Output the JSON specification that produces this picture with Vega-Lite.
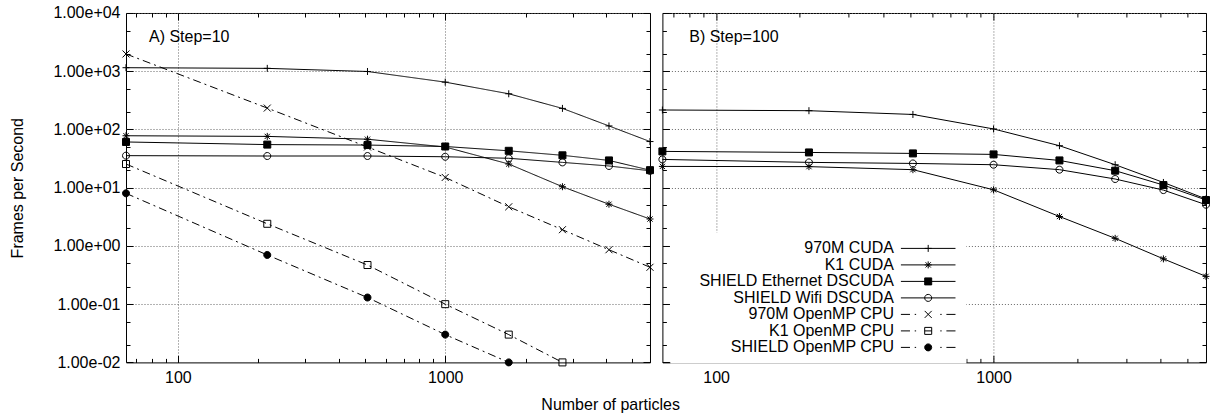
{
  "$schema": "https://vega.github.io/schema/vega-lite/v6.json",
  "padding": {"left": 9, "top": 4, "right": 0, "bottom": 0},
  "background": "white",
  "config": {
    "font": "Liberation Sans",
    "view": {"stroke": "black", "strokeWidth": 1},
    "axis": {
      "labelFont": "Liberation Sans", "labelFontSize": 16, "labelColor": "black",
      "titleFont": "Liberation Sans", "titleFontSize": 16, "titleFontWeight": "normal", "titleColor": "black",
      "domain": false, "tickColor": "black", "tickWidth": 1,
      "gridColor": "#666", "gridDash": [1, 2], "gridWidth": 1,
      "labelOverlap": false, "labelFlush": false, "labelBound": false
    },
    "legend": {"labelFont": "Liberation Sans", "labelFontSize": 16, "labelColor": "black"}
  },
  "title": {"text": "Number of particles", "orient": "bottom", "anchor": "middle", "fontSize": 16, "font": "Liberation Sans", "fontWeight": "normal", "color": "black", "offset": 8},
  "datasets": {
    "fps": [
      {"panel": "A", "series": "970M CUDA", "n": 64, "fps": 1150},
      {"panel": "A", "series": "970M CUDA", "n": 216, "fps": 1120},
      {"panel": "A", "series": "970M CUDA", "n": 512, "fps": 990},
      {"panel": "A", "series": "970M CUDA", "n": 1000, "fps": 650},
      {"panel": "A", "series": "970M CUDA", "n": 1728, "fps": 410},
      {"panel": "A", "series": "970M CUDA", "n": 2744, "fps": 230},
      {"panel": "A", "series": "970M CUDA", "n": 4096, "fps": 115},
      {"panel": "A", "series": "970M CUDA", "n": 5832, "fps": 62},
      {"panel": "A", "series": "K1 CUDA", "n": 64, "fps": 78},
      {"panel": "A", "series": "K1 CUDA", "n": 216, "fps": 76},
      {"panel": "A", "series": "K1 CUDA", "n": 512, "fps": 68},
      {"panel": "A", "series": "K1 CUDA", "n": 1000, "fps": 50},
      {"panel": "A", "series": "K1 CUDA", "n": 1728, "fps": 25.5},
      {"panel": "A", "series": "K1 CUDA", "n": 2744, "fps": 10.4},
      {"panel": "A", "series": "K1 CUDA", "n": 4096, "fps": 5.2},
      {"panel": "A", "series": "K1 CUDA", "n": 5832, "fps": 2.9},
      {"panel": "A", "series": "SHIELD Ethernet DSCUDA", "n": 64, "fps": 61},
      {"panel": "A", "series": "SHIELD Ethernet DSCUDA", "n": 216, "fps": 55},
      {"panel": "A", "series": "SHIELD Ethernet DSCUDA", "n": 512, "fps": 54},
      {"panel": "A", "series": "SHIELD Ethernet DSCUDA", "n": 1000, "fps": 51},
      {"panel": "A", "series": "SHIELD Ethernet DSCUDA", "n": 1728, "fps": 43},
      {"panel": "A", "series": "SHIELD Ethernet DSCUDA", "n": 2744, "fps": 36},
      {"panel": "A", "series": "SHIELD Ethernet DSCUDA", "n": 4096, "fps": 29.4},
      {"panel": "A", "series": "SHIELD Ethernet DSCUDA", "n": 5832, "fps": 20},
      {"panel": "A", "series": "SHIELD Wifi DSCUDA", "n": 64, "fps": 35.5},
      {"panel": "A", "series": "SHIELD Wifi DSCUDA", "n": 216, "fps": 35},
      {"panel": "A", "series": "SHIELD Wifi DSCUDA", "n": 512, "fps": 35},
      {"panel": "A", "series": "SHIELD Wifi DSCUDA", "n": 1000, "fps": 34},
      {"panel": "A", "series": "SHIELD Wifi DSCUDA", "n": 1728, "fps": 32},
      {"panel": "A", "series": "SHIELD Wifi DSCUDA", "n": 2744, "fps": 27.2},
      {"panel": "A", "series": "SHIELD Wifi DSCUDA", "n": 4096, "fps": 23.6},
      {"panel": "A", "series": "SHIELD Wifi DSCUDA", "n": 5832, "fps": 19.5},
      {"panel": "A", "series": "970M OpenMP CPU", "n": 64, "fps": 1980},
      {"panel": "A", "series": "970M OpenMP CPU", "n": 216, "fps": 233},
      {"panel": "A", "series": "970M OpenMP CPU", "n": 512, "fps": 50},
      {"panel": "A", "series": "970M OpenMP CPU", "n": 1000, "fps": 15},
      {"panel": "A", "series": "970M OpenMP CPU", "n": 1728, "fps": 4.7},
      {"panel": "A", "series": "970M OpenMP CPU", "n": 2744, "fps": 1.9},
      {"panel": "A", "series": "970M OpenMP CPU", "n": 4096, "fps": 0.86},
      {"panel": "A", "series": "970M OpenMP CPU", "n": 5832, "fps": 0.43},
      {"panel": "A", "series": "K1 OpenMP CPU", "n": 64, "fps": 25.5},
      {"panel": "A", "series": "K1 OpenMP CPU", "n": 216, "fps": 2.4},
      {"panel": "A", "series": "K1 OpenMP CPU", "n": 512, "fps": 0.47},
      {"panel": "A", "series": "K1 OpenMP CPU", "n": 1000, "fps": 0.1},
      {"panel": "A", "series": "K1 OpenMP CPU", "n": 1728, "fps": 0.03},
      {"panel": "A", "series": "K1 OpenMP CPU", "n": 2744, "fps": 0.01},
      {"panel": "A", "series": "SHIELD OpenMP CPU", "n": 64, "fps": 8},
      {"panel": "A", "series": "SHIELD OpenMP CPU", "n": 216, "fps": 0.7},
      {"panel": "A", "series": "SHIELD OpenMP CPU", "n": 512, "fps": 0.13},
      {"panel": "A", "series": "SHIELD OpenMP CPU", "n": 1000, "fps": 0.03},
      {"panel": "A", "series": "SHIELD OpenMP CPU", "n": 1728, "fps": 0.01},
      {"panel": "B", "series": "970M CUDA", "n": 64, "fps": 216},
      {"panel": "B", "series": "970M CUDA", "n": 216, "fps": 210},
      {"panel": "B", "series": "970M CUDA", "n": 512, "fps": 181},
      {"panel": "B", "series": "970M CUDA", "n": 1000, "fps": 102},
      {"panel": "B", "series": "970M CUDA", "n": 1728, "fps": 52.6},
      {"panel": "B", "series": "970M CUDA", "n": 2744, "fps": 24.8},
      {"panel": "B", "series": "970M CUDA", "n": 4096, "fps": 12.3},
      {"panel": "B", "series": "970M CUDA", "n": 5832, "fps": 6.4},
      {"panel": "B", "series": "K1 CUDA", "n": 64, "fps": 23.2},
      {"panel": "B", "series": "K1 CUDA", "n": 216, "fps": 23},
      {"panel": "B", "series": "K1 CUDA", "n": 512, "fps": 20.4},
      {"panel": "B", "series": "K1 CUDA", "n": 1000, "fps": 9.2},
      {"panel": "B", "series": "K1 CUDA", "n": 1728, "fps": 3.2},
      {"panel": "B", "series": "K1 CUDA", "n": 2744, "fps": 1.35},
      {"panel": "B", "series": "K1 CUDA", "n": 4096, "fps": 0.6},
      {"panel": "B", "series": "K1 CUDA", "n": 5832, "fps": 0.3},
      {"panel": "B", "series": "SHIELD Ethernet DSCUDA", "n": 64, "fps": 42},
      {"panel": "B", "series": "SHIELD Ethernet DSCUDA", "n": 216, "fps": 40.3},
      {"panel": "B", "series": "SHIELD Ethernet DSCUDA", "n": 512, "fps": 38.8},
      {"panel": "B", "series": "SHIELD Ethernet DSCUDA", "n": 1000, "fps": 37.3},
      {"panel": "B", "series": "SHIELD Ethernet DSCUDA", "n": 1728, "fps": 29.4},
      {"panel": "B", "series": "SHIELD Ethernet DSCUDA", "n": 2744, "fps": 19.6},
      {"panel": "B", "series": "SHIELD Ethernet DSCUDA", "n": 4096, "fps": 11.1},
      {"panel": "B", "series": "SHIELD Ethernet DSCUDA", "n": 5832, "fps": 6.15},
      {"panel": "B", "series": "SHIELD Wifi DSCUDA", "n": 64, "fps": 30.6},
      {"panel": "B", "series": "SHIELD Wifi DSCUDA", "n": 216, "fps": 27.2},
      {"panel": "B", "series": "SHIELD Wifi DSCUDA", "n": 512, "fps": 26.1},
      {"panel": "B", "series": "SHIELD Wifi DSCUDA", "n": 1000, "fps": 24.8},
      {"panel": "B", "series": "SHIELD Wifi DSCUDA", "n": 1728, "fps": 20.4},
      {"panel": "B", "series": "SHIELD Wifi DSCUDA", "n": 2744, "fps": 14.1},
      {"panel": "B", "series": "SHIELD Wifi DSCUDA", "n": 4096, "fps": 9.1},
      {"panel": "B", "series": "SHIELD Wifi DSCUDA", "n": 5832, "fps": 5.1}
    ],
    "notes": [
      {"panel": "A", "n": 78, "fps": 3900, "label": "A) Step=10"},
      {"panel": "B", "n": 80, "fps": 3900, "label": "B) Step=100"}
    ]
  },
  "spacing": 0.4,
  "resolve": {"scale": {"shape": "independent", "fill": "independent", "stroke": "independent", "strokeDash": "independent"}, "legend": {"shape": "independent", "fill": "independent", "stroke": "independent", "strokeDash": "independent"}},
  "hconcat": [
    {
      "width": 524, "height": 349.4,
      "resolve": {"axis": {"x": "independent", "y": "independent"}},
      "layer": [
        {
          "data": {"name": "fps"},
          "transform": [{"filter": "datum.panel == 'A'"}],
          "mark": {"type": "line", "color": "black", "strokeWidth": 1},
          "encoding": {
            "x": {"field": "n", "type": "quantitative", "scale": {"type": "log", "domain": [64, 5832], "nice": false},
              "axis": {"orient": "bottom", "values": [70,80,90,100,200,300,400,500,600,700,800,900,1000,2000,3000,4000,5000], "title": null, "grid": true,
                "gridOpacity": {"condition": {"test": "datum.value == 100 || datum.value == 1000", "value": 1}, "value": 0},
                "tickSize": {"condition": {"test": "datum.value == 100 || datum.value == 1000", "value": -7}, "value": -4},
                "labelExpr": "(datum.value == 100 || datum.value == 1000) ? '' + datum.value : ''", "labelPadding": 14}},
            "y": {"field": "fps", "type": "quantitative", "scale": {"type": "log", "domain": [0.01, 10000], "nice": false},
              "axis": {"orient": "left", "values": [0.01,0.02,0.05,0.1,0.2,0.5,1,2,5,10,20,50,100,200,500,1000,2000,5000,10000], "title": "Frames per Second", "titlePadding": 27, "grid": true,
                "gridOpacity": {"condition": {"test": "abs(log(datum.value)/LN10 - round(log(datum.value)/LN10)) < 0.000001", "value": 1}, "value": 0},
                "tickSize": {"condition": {"test": "abs(log(datum.value)/LN10 - round(log(datum.value)/LN10)) < 0.000001", "value": -7}, "value": -4},
                "labelExpr": "abs(log(datum.value)/LN10 - round(log(datum.value)/LN10)) < 0.000001 ? '1.00e' + (round(log(datum.value)/LN10) < 0 ? '-' : '+') + '0' + abs(round(log(datum.value)/LN10)) : ''", "labelPadding": 13}},
            "strokeDash": {"field": "series", "type": "nominal", "legend": null,
              "scale": {"domain": ["970M CUDA", "K1 CUDA", "SHIELD Ethernet DSCUDA", "SHIELD Wifi DSCUDA", "970M OpenMP CPU", "K1 OpenMP CPU", "SHIELD OpenMP CPU"],
                "range": [[1,0],[1,0],[1,0],[1,0],[8,4,2,4],[8,4,2,4],[8,4,2,4]]}}
          }
        },
        {
          "data": {"name": "fps"},
          "transform": [{"filter": "datum.panel == 'A'"}],
          "mark": {"type": "point", "size": 49, "stroke": "black", "strokeWidth": 1, "opacity": 1, "filled": true},
          "encoding": {
            "x": {"field": "n", "type": "quantitative", "scale": {"type": "log", "domain": [64, 5832], "nice": false},
              "axis": {"orient": "top", "values": [70,80,90,100,200,300,400,500,600,700,800,900,1000,2000,3000,4000,5000], "title": null, "grid": false, "labels": false,
                "tickSize": {"condition": {"test": "datum.value == 100 || datum.value == 1000", "value": -7}, "value": -4}}},
            "y": {"field": "fps", "type": "quantitative", "scale": {"type": "log", "domain": [0.01, 10000], "nice": false},
              "axis": {"orient": "right", "values": [0.01,0.02,0.05,0.1,0.2,0.5,1,2,5,10,20,50,100,200,500,1000,2000,5000,10000], "title": null, "grid": false, "labels": false,
                "tickSize": {"condition": {"test": "abs(log(datum.value)/LN10 - round(log(datum.value)/LN10)) < 0.000001", "value": -7}, "value": -4}}},
            "shape": {"condition": [
                {"test": "datum.series == '970M CUDA'", "value": "M-1,0H1M0,-1V1"},
                {"test": "datum.series == 'K1 CUDA'", "value": "M-1,0H1M0,-1V1M-0.75,-0.75L0.75,0.75M-0.75,0.75L0.75,-0.75"},
                {"test": "datum.series == '970M OpenMP CPU'", "value": "M-1,-1L1,1M-1,1L1,-1"},
                {"test": "datum.series == 'SHIELD Wifi DSCUDA' || datum.series == 'SHIELD OpenMP CPU'", "value": "M1,0A1,1,0,1,1,-1,0A1,1,0,1,1,1,0Z"}
              ], "value": "M-1,-1H1V1H-1Z"},
            "fill": {"condition": {"test": "datum.series == 'SHIELD Ethernet DSCUDA' || datum.series == 'SHIELD OpenMP CPU'", "value": "black"}, "value": "transparent"}
          }
        },
        {
          "data": {"name": "notes"},
          "transform": [{"filter": "datum.panel == 'A'"}],
          "mark": {"type": "text", "align": "left", "baseline": "middle", "fontSize": 16, "font": "Liberation Sans", "color": "black"},
          "encoding": {
            "x": {"field": "n", "type": "quantitative", "scale": {"type": "log", "domain": [64, 5832], "nice": false}, "axis": null},
            "y": {"field": "fps", "type": "quantitative", "scale": {"type": "log", "domain": [0.01, 10000], "nice": false}, "axis": null},
            "text": {"field": "label"}
          }
        }
      ]
    },
    {
      "width": 543.6, "height": 349.4,
      "resolve": {"axis": {"x": "independent", "y": "independent"}},
      "layer": [
        {
          "data": {"name": "fps"},
          "transform": [{"filter": "datum.panel == 'B'"}],
          "mark": {"type": "line", "color": "black", "strokeWidth": 1},
          "encoding": {
            "x": {"field": "n", "type": "quantitative", "scale": {"type": "log", "domain": [64, 5832], "nice": false},
              "axis": {"orient": "bottom", "values": [70,80,90,100,200,300,400,500,600,700,800,900,1000,2000,3000,4000,5000], "title": null, "grid": true,
                "gridOpacity": {"condition": {"test": "datum.value == 100 || datum.value == 1000", "value": 1}, "value": 0},
                "tickSize": {"condition": {"test": "datum.value == 100 || datum.value == 1000", "value": -7}, "value": -4},
                "labelExpr": "(datum.value == 100 || datum.value == 1000) ? '' + datum.value : ''", "labelPadding": 14}},
            "y": {"field": "fps", "type": "quantitative", "scale": {"type": "log", "domain": [0.01, 10000], "nice": false},
              "axis": {"orient": "left", "values": [0.01,0.02,0.05,0.1,0.2,0.5,1,2,5,10,20,50,100,200,500,1000,2000,5000,10000], "title": null, "grid": true, "labels": false,
                "gridOpacity": {"condition": {"test": "abs(log(datum.value)/LN10 - round(log(datum.value)/LN10)) < 0.000001", "value": 1}, "value": 0},
                "tickSize": {"condition": {"test": "abs(log(datum.value)/LN10 - round(log(datum.value)/LN10)) < 0.000001", "value": -7}, "value": -4}}},
            "detail": {"field": "series", "type": "nominal"}
          }
        },
        {
          "data": {"name": "fps"},
          "transform": [{"filter": "datum.panel == 'B'"}],
          "mark": {"type": "point", "size": 49, "stroke": "black", "strokeWidth": 1, "opacity": 1, "filled": true},
          "encoding": {
            "x": {"field": "n", "type": "quantitative", "scale": {"type": "log", "domain": [64, 5832], "nice": false},
              "axis": {"orient": "top", "values": [70,80,90,100,200,300,400,500,600,700,800,900,1000,2000,3000,4000,5000], "title": null, "grid": false, "labels": false,
                "tickSize": {"condition": {"test": "datum.value == 100 || datum.value == 1000", "value": -7}, "value": -4}}},
            "y": {"field": "fps", "type": "quantitative", "scale": {"type": "log", "domain": [0.01, 10000], "nice": false},
              "axis": {"orient": "right", "values": [0.01,0.02,0.05,0.1,0.2,0.5,1,2,5,10,20,50,100,200,500,1000,2000,5000,10000], "title": null, "grid": false, "labels": false,
                "tickSize": {"condition": {"test": "abs(log(datum.value)/LN10 - round(log(datum.value)/LN10)) < 0.000001", "value": -7}, "value": -4}}},
            "shape": {"condition": [
                {"test": "datum.series == '970M CUDA'", "value": "M-1,0H1M0,-1V1"},
                {"test": "datum.series == 'K1 CUDA'", "value": "M-1,0H1M0,-1V1M-0.75,-0.75L0.75,0.75M-0.75,0.75L0.75,-0.75"},
                {"test": "datum.series == '970M OpenMP CPU'", "value": "M-1,-1L1,1M-1,1L1,-1"},
                {"test": "datum.series == 'SHIELD Wifi DSCUDA' || datum.series == 'SHIELD OpenMP CPU'", "value": "M1,0A1,1,0,1,1,-1,0A1,1,0,1,1,1,0Z"}
              ], "value": "M-1,-1H1V1H-1Z"},
            "fill": {"condition": {"test": "datum.series == 'SHIELD Ethernet DSCUDA' || datum.series == 'SHIELD OpenMP CPU'", "value": "black"}, "value": "transparent"}
          }
        },
        {
          "data": {"name": "fps"},
          "transform": [{"filter": "datum.panel == 'legend-only'"}],
          "mark": {"type": "point", "size": 49, "strokeWidth": 1, "opacity": 1, "filled": true},
          "encoding": {
            "x": {"field": "n", "type": "quantitative", "scale": {"type": "log", "domain": [64, 5832], "nice": false}, "axis": null},
            "y": {"field": "fps", "type": "quantitative", "scale": {"type": "log", "domain": [0.01, 10000], "nice": false}, "axis": null},
            "shape": {"field": "series", "type": "nominal",
              "scale": {"domain": ["970M CUDA", "K1 CUDA", "SHIELD Ethernet DSCUDA", "SHIELD Wifi DSCUDA", "970M OpenMP CPU", "K1 OpenMP CPU", "SHIELD OpenMP CPU"],
                "range": [
                  "M-7.8,0H7.8M-1,0H1M0,-1V1",
                  "M-7.8,0H7.8M-1,0H1M0,-1V1M-0.75,-0.75L0.75,0.75M-0.75,0.75L0.75,-0.75",
                  "M-7.8,0H7.8M-1,-1H1V1H-1Z",
                  "M-7.8,0H7.8M1,0A1,1,0,1,1,-1,0A1,1,0,1,1,1,0Z",
                  "M-7.8,0H-5.2M-3.85,0H-3.45M3.45,0H3.85M5.2,0H7.8M-1,-1L1,1M-1,1L1,-1",
                  "M-7.8,0H-5.2M-3.85,0H-3.45M3.45,0H3.85M5.2,0H7.8M-1,0H1M-1,-1H1V1H-1Z",
                  "M-7.8,0H-5.2M-3.85,0H-3.45M3.45,0H3.85M5.2,0H7.8M1,0A1,1,0,1,1,-1,0A1,1,0,1,1,1,0Z"
                ]},
              "legend": {
                "title": null, "orient": "none", "legendX": 8, "legendY": 219.4, "padding": 8, "fillColor": "white",
                "labelAlign": "right", "labelOffset": -42.2, "symbolOffset": 241.8, "rowPadding": 0.5,
                "labelFontSize": 16, "labelFont": "Liberation Sans", "labelColor": "black", "labelLimit": 400,
                "symbolSize": 49, "symbolOpacity": 1, "symbolStrokeWidth": 1
              }},
            "fill": {"field": "series", "type": "nominal",
              "scale": {"domain": ["970M CUDA", "K1 CUDA", "SHIELD Ethernet DSCUDA", "SHIELD Wifi DSCUDA", "970M OpenMP CPU", "K1 OpenMP CPU", "SHIELD OpenMP CPU"],
                "range": ["transparent", "transparent", "black", "transparent", "transparent", "transparent", "black"]}},
            "stroke": {"field": "series", "type": "nominal",
              "scale": {"domain": ["970M CUDA", "K1 CUDA", "SHIELD Ethernet DSCUDA", "SHIELD Wifi DSCUDA", "970M OpenMP CPU", "K1 OpenMP CPU", "SHIELD OpenMP CPU"],
                "range": ["black", "black", "black", "black", "black", "black", "black"]}}
          }
        },
        {
          "data": {"name": "notes"},
          "transform": [{"filter": "datum.panel == 'B'"}],
          "mark": {"type": "text", "align": "left", "baseline": "middle", "fontSize": 16, "font": "Liberation Sans", "color": "black"},
          "encoding": {
            "x": {"field": "n", "type": "quantitative", "scale": {"type": "log", "domain": [64, 5832], "nice": false}, "axis": null},
            "y": {"field": "fps", "type": "quantitative", "scale": {"type": "log", "domain": [0.01, 10000], "nice": false}, "axis": null},
            "text": {"field": "label"}
          }
        }
      ]
    }
  ]
}
